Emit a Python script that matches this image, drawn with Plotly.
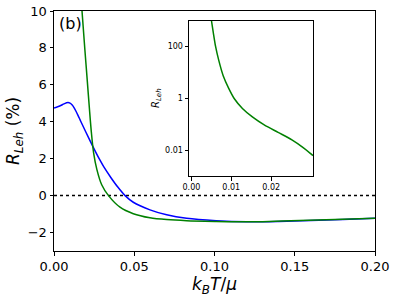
import plotly.graph_objects as go

# Main panel: blue curve
blue_x = [0.0, 0.00417, 0.00623, 0.00872, 0.00997, 0.01121, 0.01246, 0.01371, 0.01495, 0.01664,
          0.01975, 0.02287, 0.02598, 0.02866, 0.03115, 0.03551, 0.0395, 0.0443, 0.0494, 0.0598,
          0.0702, 0.0826, 0.101, 0.12, 0.14, 0.16, 0.18, 0.20]
blue_y = [4.74, 4.88, 4.97, 5.04, 5.01, 4.92, 4.77, 4.57, 4.35, 4.03,
          3.46, 2.90, 2.36, 1.92, 1.54, 0.97, 0.49, 0.0, -0.36, -0.77,
          -1.04, -1.23, -1.36, -1.42, -1.40, -1.35, -1.29, -1.22]

# Main panel: green curve
green_x = [0.01745, 0.01925, 0.02069, 0.02212, 0.0233, 0.02467, 0.02673, 0.02972, 0.03396, 0.04112,
           0.04941, 0.0598, 0.0702, 0.0826, 0.101, 0.115, 0.13, 0.153, 0.175, 0.20]
green_y = [10.0, 7.89, 6.27, 4.65, 3.41, 2.32, 1.41, 0.59, 0.0, -0.627,
           -0.98, -1.2, -1.3, -1.36, -1.40, -1.42, -1.41, -1.35, -1.29, -1.22]

# Inset: green curve (log scale)
inset_x = [0.00504, 0.00548, 0.00605, 0.00685, 0.00797, 0.00933, 0.01082, 0.0128, 0.01529,
           0.01826, 0.02174, 0.02521, 0.02794, 0.0305]
inset_y = [966, 355, 103, 29.7, 7.46, 2.49, 0.940, 0.405, 0.191,
           0.094, 0.0484, 0.0249, 0.0128, 0.00614]

zero_x = [0.0, 0.2]
zero_y = [0.0, 0.0]

main_xticks = [0.0, 0.05, 0.10, 0.15, 0.20]
main_yticks = [-2, 0, 2, 4, 6, 8, 10]
inset_xticks = [0.0, 0.01, 0.02]
inset_yticks = [0.01, 1, 100]
inset_ytext = ["0.01", "1", "100"]

FONT = "DejaVu Sans"
BLUE = "#0000ff"
GREEN = "#008000"

fig = go.Figure()
fig.add_trace(go.Scatter(x=zero_x, y=zero_y, mode="lines",
                         line=dict(color="black", width=1.5, dash="dot"),
                         xaxis="x", yaxis="y", showlegend=False))
fig.add_trace(go.Scatter(x=blue_x, y=blue_y, mode="lines",
                         line=dict(color=BLUE, width=1.5, shape="spline", smoothing=0.8),
                         xaxis="x", yaxis="y", showlegend=False))
fig.add_trace(go.Scatter(x=green_x, y=green_y, mode="lines",
                         line=dict(color=GREEN, width=1.5, shape="spline", smoothing=0.8),
                         xaxis="x", yaxis="y", showlegend=False))
fig.add_trace(go.Scatter(x=inset_x, y=inset_y, mode="lines",
                         line=dict(color=GREEN, width=1.5, shape="spline", smoothing=0.8),
                         xaxis="x2", yaxis="y2", showlegend=False))

axis_common = dict(showline=True, linecolor="black", linewidth=1, mirror=True,
                   ticks="outside", ticklen=3.5, tickwidth=0.8, tickcolor="black",
                   showgrid=False, zeroline=False, automargin=False)

fig.update_layout(
    width=397, height=299,
    margin=dict(l=54, r=22, t=11, b=48),
    paper_bgcolor="white", plot_bgcolor="white",
    font=dict(family=FONT, color="black"),
    xaxis=dict(range=[0, 0.2], tickvals=main_xticks, tickformat=".2f",
               tickfont=dict(size=13, family=FONT), domain=[0, 1],
               title=dict(text="<i>k</i><sub><i>B</i></sub><i>T</i>/<i>μ</i>",
                          font=dict(size=17, family=FONT), standoff=0),
               **axis_common),
    yaxis=dict(range=[-3, 10], tickvals=main_yticks,
               tickfont=dict(size=13, family=FONT), domain=[0, 1],
               title=dict(text="<i>R</i><sub><i>Leh</i></sub> (%)",
                          font=dict(size=17, family=FONT), standoff=3),
               **axis_common),
    xaxis2=dict(range=[-0.0006, 0.0305], tickvals=inset_xticks, tickformat=".2f",
                tickfont=dict(size=8, family=FONT), domain=[0.4206, 0.8069],
                anchor="y2", **axis_common),
    yaxis2=dict(type="log", range=[-3, 2.985], tickvals=inset_yticks, ticktext=inset_ytext,
                tickfont=dict(size=8, family=FONT), domain=[0.3125, 0.9583],
                anchor="x2", **axis_common),
    annotations=[
        dict(text="(b)", xref="paper", yref="paper", x=0.01, y=0.995,
             xanchor="left", yanchor="top", showarrow=False,
             font=dict(size=16, family=FONT)),
        dict(text="<i>R</i><sub><i>Leh</i></sub>", xref="paper", yref="paper",
             x=(156 - 54) / 321, y=(251 - 98) / 240, textangle=-90,
             xanchor="center", yanchor="middle", showarrow=False,
             font=dict(size=10, family=FONT)),
    ],
)

fig.write_html("out.html", config={"displayModeBar": False},
               post_script="document.body.style.margin='0';document.body.style.padding='0';")
